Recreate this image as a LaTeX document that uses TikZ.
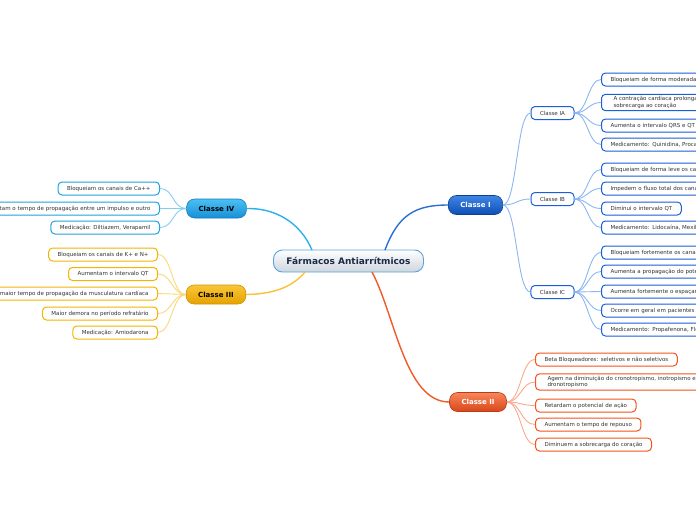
\documentclass[tikz,border=0pt]{standalone}
\usepackage{fontspec}
\setmainfont{DejaVu Sans}
\definecolor{rootb}{HTML}{5AA2DC}
\definecolor{rootg}{HTML}{CDD5DD}
\definecolor{roottxt}{HTML}{1C2A48}
\definecolor{leaftxt}{HTML}{333333}
\definecolor{bluebd}{HTML}{1A5FD6}
\definecolor{orgbd}{HTML}{F2541B}
\definecolor{yelbd}{HTML}{F4B400}
\definecolor{cyanbd}{HTML}{1FA2E0}
\definecolor{bluel}{HTML}{8CB6F0}
\definecolor{orgl}{HTML}{F9A98C}
\definecolor{yell}{HTML}{F8D87A}
\definecolor{cyanl}{HTML}{82CDF0}
\definecolor{blueA}{HTML}{3F86E4}
\definecolor{blueB}{HTML}{0E4FB6}
\definecolor{orgA}{HTML}{F7875A}
\definecolor{orgB}{HTML}{D9461A}
\definecolor{yelA}{HTML}{F9C637}
\definecolor{yelB}{HTML}{E6A200}
\definecolor{cyanA}{HTML}{4CC0F2}
\definecolor{cyanB}{HTML}{1690D8}
\definecolor{mainI}{HTML}{2A6FD6}
\definecolor{mainII}{HTML}{F05A28}
\definecolor{mainIII}{HTML}{F7C234}
\definecolor{mainIV}{HTML}{2AB0EC}
\begin{document}
\begin{tikzpicture}[x=1pt,y=-1pt,
  root/.style={draw=rootb,line width=0.9pt,rounded corners=9pt,top color=white,bottom color=rootg,text=roottxt,font=\bfseries\fontsize{9}{10}\selectfont,minimum height=22pt,inner xsep=13pt,inner ysep=0pt},
  cls/.style={line width=0.6pt,rounded corners=8pt,font=\bfseries\fontsize{7}{8}\selectfont,minimum height=19pt,inner xsep=12pt,inner ysep=0pt},
  clsI/.style={cls,draw=blueB!80!black,top color=blueA,bottom color=blueB,text=white},
  clsII/.style={cls,draw=orgB!85!black,top color=orgA,bottom color=orgB,text=white},
  clsIII/.style={cls,draw=yelB!90!black,top color=yelA,bottom color=yelB,text=black},
  clsIV/.style={cls,draw=cyanB!85!black,top color=cyanA,bottom color=cyanB,text=black},
  leaf/.style={draw=#1,line width=1pt,fill=white,rounded corners=4pt,font=\fontsize{5.5}{6.8}\selectfont,text=leaftxt,minimum height=13pt,inner xsep=9pt,inner ysep=1.5pt},
  rcut/.style={anchor=west,text width=125pt,align=left},
  lcut/.style={anchor=east,text width=200pt,align=right},
  rl/.style={anchor=west},
  ll/.style={anchor=east},
  two/.style={inner xsep=12pt,inner ysep=2pt},
  thick1/.style={line width=1.4pt,#1},
  thin1/.style={line width=0.9pt,#1}
]
\useasboundingbox (0,0) rectangle (696,520);

% root and classes
\node[root] (root) at (348.5,261) {Fármacos Antiarrítmicos};
\node[clsI] (c1) at (475.5,205) {Classe I};
\node[clsII] (c2) at (478,402) {Classe II};
\node[clsIII] (c3) at (216,294.5) {Classe III};
\node[clsIV] (c4) at (216.5,208.5) {Classe IV};

\coordinate (s1) at (385,250);
\coordinate (s2) at (372,272);
\coordinate (s3) at (305,272);
\coordinate (s4) at (312,250);

\draw[thick1=mainI] (s1) .. controls (398,215) and (415,205) .. (c1.west);
\draw[thick1=mainII] (s2) .. controls (395,315) and (405,402) .. (c2.west);
\draw[thick1=mainIII] (s3) .. controls (290,290) and (268,294) .. (c3.east);
\draw[thick1=mainIV] (s4) .. controls (300,222) and (275,208) .. (c4.east);

% Classe I subclasses
\node[leaf=bluebd] (ia) at (552.5,113) {Classe IA};
\node[leaf=bluebd] (ib) at (552.5,199) {Classe IB};
\node[leaf=bluebd] (ic) at (552.5,292) {Classe IC};
\foreach \s in {ia,ib,ic}
  \draw[thin1=bluel] (c1.east) .. controls +(14,0) and +(-14,0) .. (\s.west);

% IA children
\node[leaf=bluebd,rcut] (ia1) at (601,79.5) {Bloqueiam de forma moderada};
\node[leaf=bluebd,rcut,two] (ia2) at (601,102.5) {A contração cardíaca prolonga\\sobrecarga ao coração};
\node[leaf=bluebd,rcut] (ia3) at (601,125.5) {Aumenta o intervalo QRS e QT};
\node[leaf=bluebd,rcut] (ia4) at (601,144.5) {Medicamento: Quinidina, Proca};
\foreach \s in {ia1,ia2,ia3,ia4}
  \draw[thin1=bluel] (ia.east) .. controls +(13,0) and +(-13,0) .. (\s.west);

% IB children
\node[leaf=bluebd,rcut] (ib1) at (601,169.5) {Bloqueiam de forma leve os ca};
\node[leaf=bluebd,rcut] (ib2) at (601,188.5) {Impedem o fluxo total dos cana};
\node[leaf=bluebd,rl] (ib3) at (601,208.5) {Diminui o intervalo QT};
\node[leaf=bluebd,rcut] (ib4) at (601,227.5) {Medicamento: Lidocaína, Mexil};
\foreach \s in {ib1,ib2,ib3,ib4}
  \draw[thin1=bluel] (ib.east) .. controls +(13,0) and +(-13,0) .. (\s.west);

% IC children
\node[leaf=bluebd,rcut] (ic1) at (601,252.5) {Bloqueiam fortemente os canais};
\node[leaf=bluebd,rcut] (ic2) at (601,271.5) {Aumenta a propagação do pote};
\node[leaf=bluebd,rcut] (ic3) at (601,291.5) {Aumenta fortemente o espaçam};
\node[leaf=bluebd,rcut] (ic4) at (601,310.5) {Ocorre em geral em pacientes};
\node[leaf=bluebd,rcut] (ic5) at (601,329.5) {Medicamento: Propafenona, Fle};
\foreach \s in {ic1,ic2,ic3,ic4,ic5}
  \draw[thin1=bluel] (ic.east) .. controls +(13,0) and +(-13,0) .. (\s.west);

% Classe II children
\node[leaf=orgbd,rl] (ii1) at (535,359.5) {Beta Bloqueadores: seletivos e não seletivos};
\node[leaf=orgbd,rcut,two,text width=170pt] (ii2) at (535,382) {Agem na diminuição do cronotropismo, inotropismo e\\dronotropismo};
\node[leaf=orgbd,rl] (ii3) at (535,405.5) {Retardam o potencial de ação};
\node[leaf=orgbd,rl] (ii4) at (535,424.5) {Aumentam o tempo de repouso};
\node[leaf=orgbd,rl] (ii5) at (535,444.5) {Diminuem a sobrecarga do coração};
\foreach \s in {ii1,ii2,ii3,ii4,ii5}
  \draw[thin1=orgl] (c2.east) .. controls +(14,0) and +(-14,0) .. (\s.west);

% Classe IV children
\node[leaf=cyanbd,ll] (iv1) at (160,188.5) {Bloqueiam os canais de Ca++};
\node[leaf=cyanbd,lcut] (iv2) at (160,208.5) {tam o tempo de propagação entre um impulso e outro};
\node[leaf=cyanbd,ll] (iv3) at (160,227.5) {Medicação: Diltiazem, Verapamil};
\foreach \s in {iv1,iv2,iv3}
  \draw[thin1=cyanl] (c4.west) .. controls +(-14,0) and +(14,0) .. (\s.east);

% Classe III children
\node[leaf=yelbd,ll] (iii1) at (158,254.5) {Bloqueiam os canais de K+ e N+};
\node[leaf=yelbd,ll] (iii2) at (158,274) {Aumentam o intervalo QT};
\node[leaf=yelbd,lcut] (iii3) at (158,293.5) {maior tempo de propagação da musculatura cardíaca};
\node[leaf=yelbd,ll] (iii4) at (158,313.5) {Maior demora no período refratário};
\node[leaf=yelbd,ll] (iii5) at (158,332.5) {Medicação: Amiodarona};
\foreach \s in {iii1,iii2,iii3,iii4,iii5}
  \draw[thin1=yell] (c3.west) .. controls +(-14,0) and +(14,0) .. (\s.east);
\end{tikzpicture}
\end{document}
